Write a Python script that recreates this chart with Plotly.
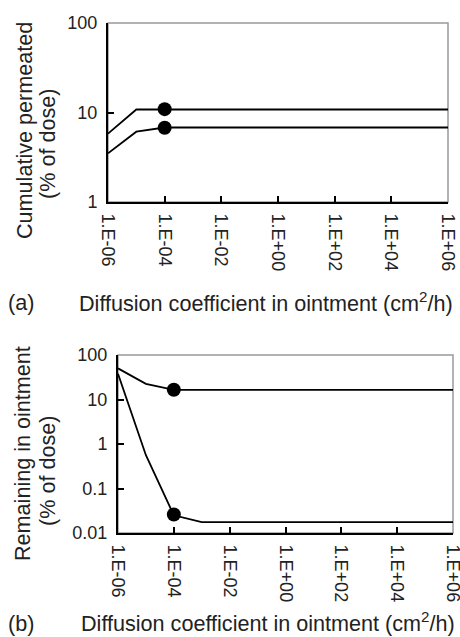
import plotly.graph_objects as go

# ---- data ----
D = [1e-6, 1e-5, 1e-4, 1e-3, 1e-2, 1e-1, 1e0, 1e1, 1e2, 1e3, 1e4, 1e5, 1e6]
perm_upper = [5.8, 10.8, 10.8, 10.8, 10.8, 10.8, 10.8, 10.8, 10.8, 10.8, 10.8, 10.8, 10.8]
perm_lower = [3.5, 6.1, 6.8, 6.8, 6.8, 6.8, 6.8, 6.8, 6.8, 6.8, 6.8, 6.8, 6.8]
rem_upper = [50, 22.5, 16.5, 16.5, 16.5, 16.5, 16.5, 16.5, 16.5, 16.5, 16.5, 16.5, 16.5]
rem_lower = [38, 0.56, 0.025, 0.0175, 0.0175, 0.0175, 0.0175, 0.0175, 0.0175, 0.0175, 0.0175, 0.0175, 0.0175]
marker_D = [1e-4, 1e-4]
perm_markers = [10.9, 6.75]
rem_markers = [16.6, 0.026]

x_tickvals = [1e-6, 1e-4, 1e-2, 1e0, 1e2, 1e4, 1e6]
x_ticktext = ["1.E-06", "1.E-04", "1.E-02", "1.E+00", "1.E+02", "1.E+04", "1.E+06"]
ya_tickvals = [1, 10, 100]
ya_ticktext = ["1", "10", "100"]
yb_tickvals = [0.01, 0.1, 1, 10, 100]
yb_ticktext = ["0.01", "0.1", "1", "10", "100"]

W, H = 460, 637
FONT = "Liberation Sans, Arial, sans-serif"
LINE = dict(color="black", width=1.8)

fig = go.Figure()
fig.add_trace(go.Scatter(x=D, y=perm_upper, mode="lines", line=LINE, xaxis="x", yaxis="y"))
fig.add_trace(go.Scatter(x=D, y=perm_lower, mode="lines", line=LINE, xaxis="x", yaxis="y"))
fig.add_trace(go.Scatter(x=marker_D, y=perm_markers, mode="markers",
                         marker=dict(color="black", size=14), xaxis="x", yaxis="y"))
fig.add_trace(go.Scatter(x=D, y=rem_upper, mode="lines", line=LINE, xaxis="x2", yaxis="y2"))
fig.add_trace(go.Scatter(x=D, y=rem_lower, mode="lines", line=LINE, xaxis="x2", yaxis="y2"))
fig.add_trace(go.Scatter(x=marker_D, y=rem_markers, mode="markers",
                         marker=dict(color="black", size=14), xaxis="x2", yaxis="y2"))

def px_x(p):
    return p / W

def px_y(p):
    return 1 - p / H

top_x = [px_x(108), px_x(448)]
top_y = [px_y(202), px_y(23)]
bot_x = [px_x(118), px_x(453)]
bot_y = [px_y(533), px_y(355)]

xcommon = dict(type="log", range=[-6, 6], tickvals=x_tickvals, ticktext=x_ticktext,
               tickangle=90, ticks="inside", ticklen=6, tickwidth=1.5, tickcolor="black",
               showline=True, linecolor="black", linewidth=2, showgrid=False, zeroline=False,
               automargin=False, ticklabelstandoff=6, ticklabeloverflow="allow",
               tickfont=dict(family=FONT, size=18, color="#222"))
ycommon = dict(type="log", ticks="inside", ticklen=6, tickwidth=1.5, tickcolor="black",
               showline=True, linecolor="black", linewidth=2, showgrid=False, zeroline=False,
               automargin=False, ticklabelstandoff=5, ticklabeloverflow="allow",
               tickfont=dict(family=FONT, size=18, color="#222"))

fig.update_layout(
    template="none",
    width=W, height=H, margin=dict(l=0, r=0, t=0, b=0, pad=0),
    paper_bgcolor="white", plot_bgcolor="white", showlegend=False,
    xaxis=dict(**xcommon, domain=top_x, anchor="y"),
    yaxis=dict(**ycommon, domain=top_y, anchor="x", range=[0, 2],
               tickvals=ya_tickvals, ticktext=ya_ticktext),
    xaxis2=dict(**xcommon, domain=bot_x, anchor="y2"),
    yaxis2=dict(**ycommon, domain=bot_y, anchor="x2", range=[-2, 2],
                tickvals=yb_tickvals, ticktext=yb_ticktext),
)

# gray frame (top/right borders)
for xd, yd in [(top_x, top_y), (bot_x, bot_y)]:
    fig.add_shape(type="rect", xref="paper", yref="paper", x0=xd[0], x1=xd[1], y0=yd[0], y1=yd[1],
                  line=dict(color="#999999", width=1.5), layer="below")

TF = dict(family=FONT, size=21.6, color="#222")
ann = [
    ("Cumulative permeated", 24, 131, -90),
    ("(% of dose)", 47, 144, -90),
    ("Remaining in ointment", 22, 454, -90),
    ("(% of dose)", 47, 471, -90),
    ("(a)", 21, 302, 0),
    ("Diffusion coefficient in ointment (cm<sup>2</sup>/h)", 266, 302, 0),
    ("(b)", 21, 623, 0),
    ("Diffusion coefficient in ointment (cm<sup>2</sup>/h)", 268, 622, 0),
]
for t, x, y, a in ann:
    fig.add_annotation(text=t, x=px_x(x), y=px_y(y), xref="paper", yref="paper",
                       xanchor="center", yanchor="middle", showarrow=False,
                       textangle=a, font=TF)

fig.write_html("out.html", config={"displayModeBar": False},
               post_script="document.body.style.margin='0';document.body.style.overflow='hidden';")
